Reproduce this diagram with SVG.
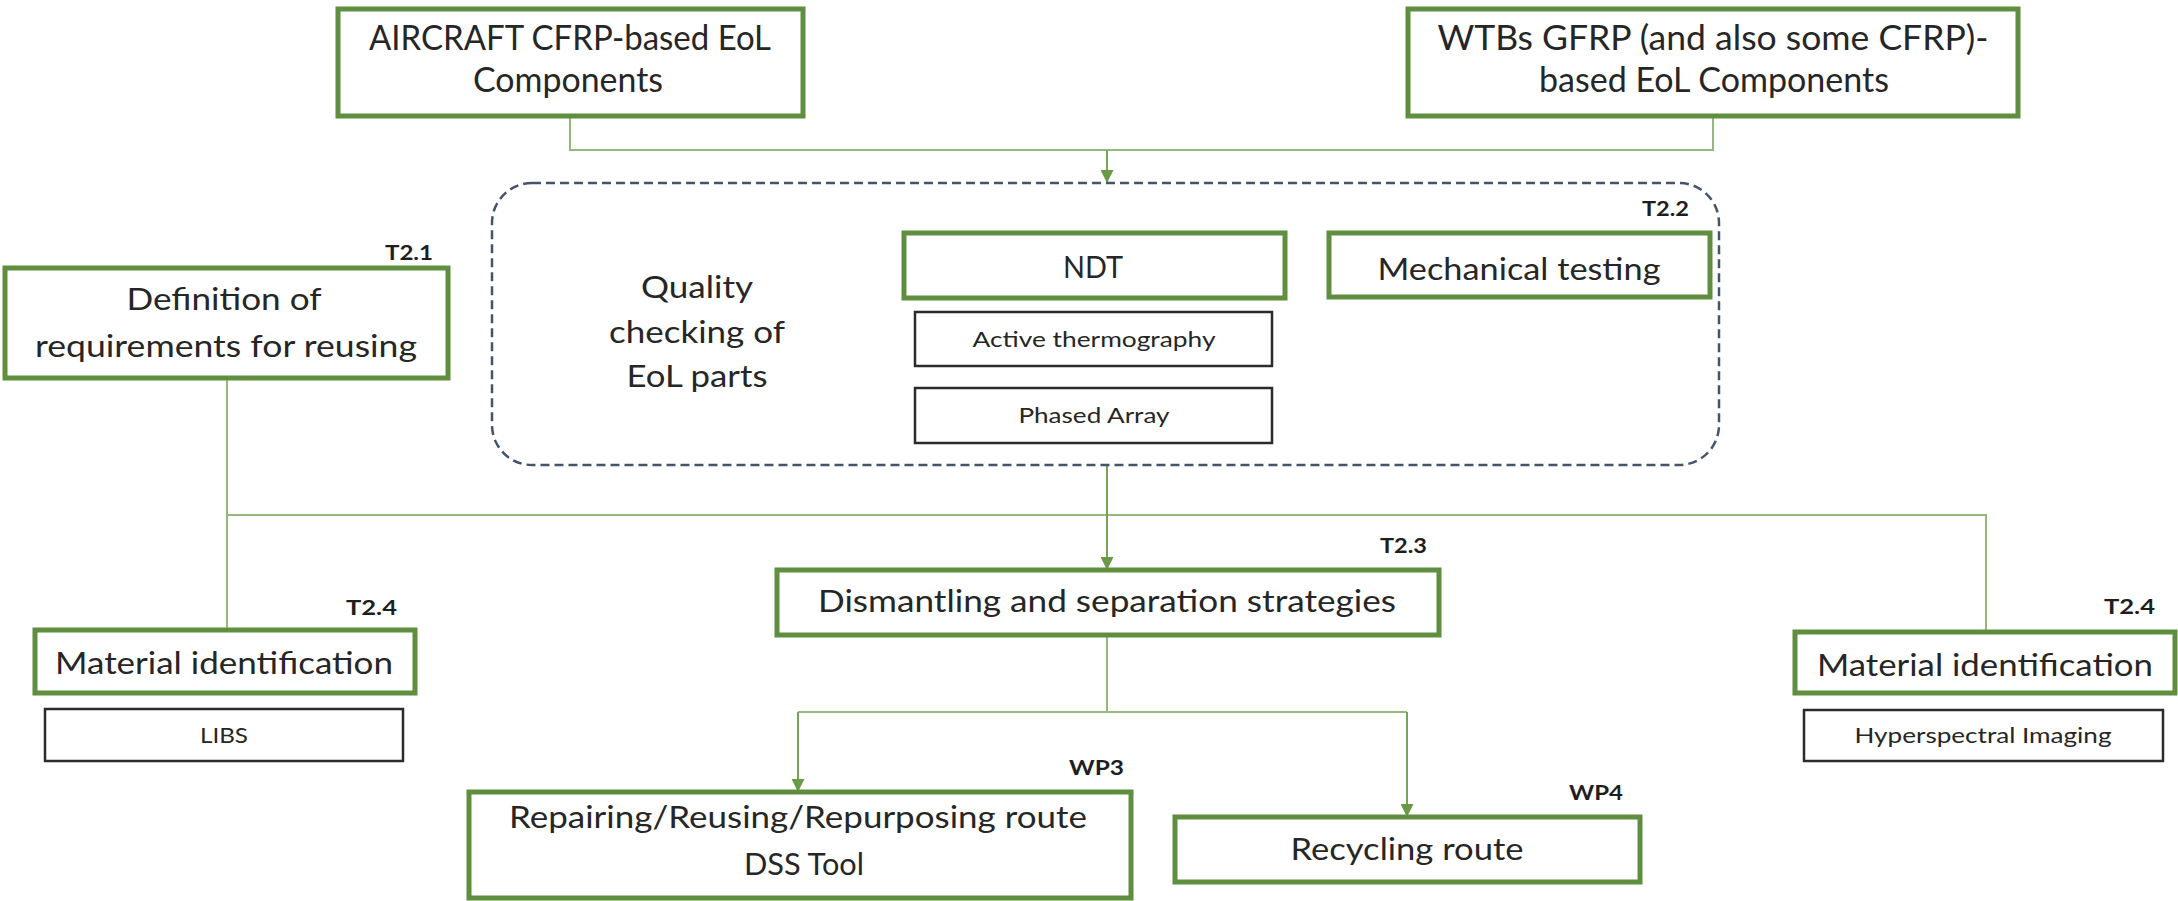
<svg xmlns="http://www.w3.org/2000/svg" width="2178" height="901" viewBox="0 0 2178 901">
  <style>
    .box { fill: #ffffff; stroke: #5e8e3e; stroke-width: 5; }
    .sub { fill: #ffffff; stroke: #2b2b2b; stroke-width: 2.5; }
    .grp { fill: none; stroke: #44546a; stroke-width: 2.5; stroke-dasharray: 9 5; }
    .txt { font-family: Lato, "Open Sans", "Liberation Sans", sans-serif; fill: #262626; text-anchor: middle; }
    .big { font-size: 34px; }
    .mid { font-size: 31px; }
    .sml { font-size: 22px; }
    .tag { font-family: Lato, "Open Sans", "Liberation Sans", sans-serif; fill: #1e1e1e; font-weight: bold; font-size: 21px; text-anchor: end; }
    .wire { fill: none; stroke: #95b97a; stroke-width: 2; }
    .flow { fill: none; stroke: #76a356; stroke-width: 2; marker-end: url(#arrow); }
  </style>
  <defs>
    <marker id="arrow" viewBox="0 0 10 10" refX="10" refY="5" markerUnits="userSpaceOnUse" markerWidth="13" markerHeight="13" orient="auto">
      <path d="M0,0 L10,5 L0,10 z" fill="#6a9a48"/>
    </marker>
  </defs>
  <rect width="2178" height="901" fill="#ffffff"/>

  <!-- connectors -->
  <g id="connectors">
    <path class="wire" d="M570,116 V150 H1713 V116"/>
    <path class="flow" d="M1107,150 V183"/>
    <path class="wire" d="M227,378 V630"/>
    <path class="wire" d="M227,515 H1986 V632"/>
    <path class="flow" d="M1107,465 V570"/>
    <path class="wire" d="M1107,635 V712"/>
    <path class="wire" d="M798,712 H1407"/>
    <path class="flow" d="M798,712 V792"/>
    <path class="flow" d="M1407,712 V817"/>
  </g>

  <!-- source components -->
  <g id="aircraft">
    <rect class="box" x="338" y="9" width="465" height="107"/>
    <text class="txt big" x="570" y="50" textLength="402" lengthAdjust="spacingAndGlyphs">AIRCRAFT CFRP-based EoL</text>
    <text class="txt big" x="568" y="92" textLength="190" lengthAdjust="spacingAndGlyphs">Components</text>
  </g>
  <g id="wtbs">
    <rect class="box" x="1408" y="9" width="610" height="107"/>
    <text class="txt big" x="1713" y="50" textLength="551" lengthAdjust="spacingAndGlyphs">WTBs GFRP (and also some CFRP)-</text>
    <text class="txt big" x="1714" y="92" textLength="350" lengthAdjust="spacingAndGlyphs">based EoL Components</text>
  </g>

  <!-- quality checking group (T2.2) -->
  <g id="quality-check">
    <rect class="grp" x="492" y="183" width="1227" height="282" rx="40" ry="40"/>
    <text class="tag" x="1689" y="216" textLength="47" lengthAdjust="spacingAndGlyphs">T2.2</text>
    <text class="txt mid" x="697" y="298" textLength="112" lengthAdjust="spacingAndGlyphs">Quality</text>
    <text class="txt mid" x="697" y="343" textLength="176" lengthAdjust="spacingAndGlyphs">checking of</text>
    <text class="txt mid" x="697" y="387" textLength="141" lengthAdjust="spacingAndGlyphs">EoL parts</text>
  </g>
  <g id="ndt">
    <rect class="box" x="904" y="233" width="381" height="65"/>
    <text class="txt mid" x="1093" y="278" textLength="60" lengthAdjust="spacingAndGlyphs">NDT</text>
  </g>
  <g id="active-thermography">
    <rect class="sub" x="915" y="312" width="357" height="54"/>
    <text class="txt sml" x="1094" y="347" textLength="243" lengthAdjust="spacingAndGlyphs">Active thermography</text>
  </g>
  <g id="phased-array">
    <rect class="sub" x="915" y="388" width="357" height="55"/>
    <text class="txt sml" x="1094" y="423" textLength="151" lengthAdjust="spacingAndGlyphs">Phased Array</text>
  </g>
  <g id="mechanical-testing">
    <rect class="box" x="1329" y="233" width="381" height="64"/>
    <text class="txt mid" x="1519" y="280" textLength="283" lengthAdjust="spacingAndGlyphs">Mechanical testing</text>
  </g>

  <!-- requirements (T2.1) -->
  <g id="requirements">
    <text class="tag" x="433" y="260" textLength="48" lengthAdjust="spacingAndGlyphs">T2.1</text>
    <rect class="box" x="5" y="268" width="443" height="110"/>
    <text class="txt mid" x="224" y="310" textLength="195" lengthAdjust="spacingAndGlyphs">Definition of</text>
    <text class="txt mid" x="226" y="357" textLength="382" lengthAdjust="spacingAndGlyphs">requirements for reusing</text>
  </g>

  <!-- material identification (T2.4) -->
  <g id="material-id-left">
    <text class="tag" x="397" y="615" textLength="51" lengthAdjust="spacingAndGlyphs">T2.4</text>
    <rect class="box" x="35" y="630" width="380" height="63"/>
    <text class="txt mid" x="224" y="674" textLength="338" lengthAdjust="spacingAndGlyphs">Material identification</text>
  </g>
  <g id="libs">
    <rect class="sub" x="45" y="709" width="358" height="52"/>
    <text class="txt sml" x="224" y="743" textLength="48" lengthAdjust="spacingAndGlyphs">LIBS</text>
  </g>
  <g id="material-id-right">
    <text class="tag" x="2155" y="614" textLength="51" lengthAdjust="spacingAndGlyphs">T2.4</text>
    <rect class="box" x="1795" y="632" width="380" height="61"/>
    <text class="txt mid" x="1985" y="676" textLength="336" lengthAdjust="spacingAndGlyphs">Material identification</text>
  </g>
  <g id="hyperspectral">
    <rect class="sub" x="1804" y="710" width="359" height="51"/>
    <text class="txt sml" x="1983" y="743" textLength="257" lengthAdjust="spacingAndGlyphs">Hyperspectral Imaging</text>
  </g>

  <!-- dismantling (T2.3) -->
  <g id="dismantling">
    <text class="tag" x="1427" y="553" textLength="47" lengthAdjust="spacingAndGlyphs">T2.3</text>
    <rect class="box" x="777" y="570" width="662" height="65"/>
    <text class="txt mid" x="1107" y="612" textLength="578" lengthAdjust="spacingAndGlyphs">Dismantling and separation strategies</text>
  </g>

  <!-- downstream routes -->
  <g id="reuse-route">
    <text class="tag" x="1124" y="775" textLength="55" lengthAdjust="spacingAndGlyphs">WP3</text>
    <rect class="box" x="469" y="792" width="662" height="106"/>
    <text class="txt mid" x="798" y="828" textLength="578" lengthAdjust="spacingAndGlyphs">Repairing/Reusing/Repurposing route</text>
    <text class="txt mid" x="804" y="875" textLength="120" lengthAdjust="spacingAndGlyphs">DSS Tool</text>
  </g>
  <g id="recycling-route">
    <text class="tag" x="1623" y="800" textLength="54" lengthAdjust="spacingAndGlyphs">WP4</text>
    <rect class="box" x="1175" y="817" width="465" height="65"/>
    <text class="txt mid" x="1407" y="860" textLength="233" lengthAdjust="spacingAndGlyphs">Recycling route</text>
  </g>
</svg>
